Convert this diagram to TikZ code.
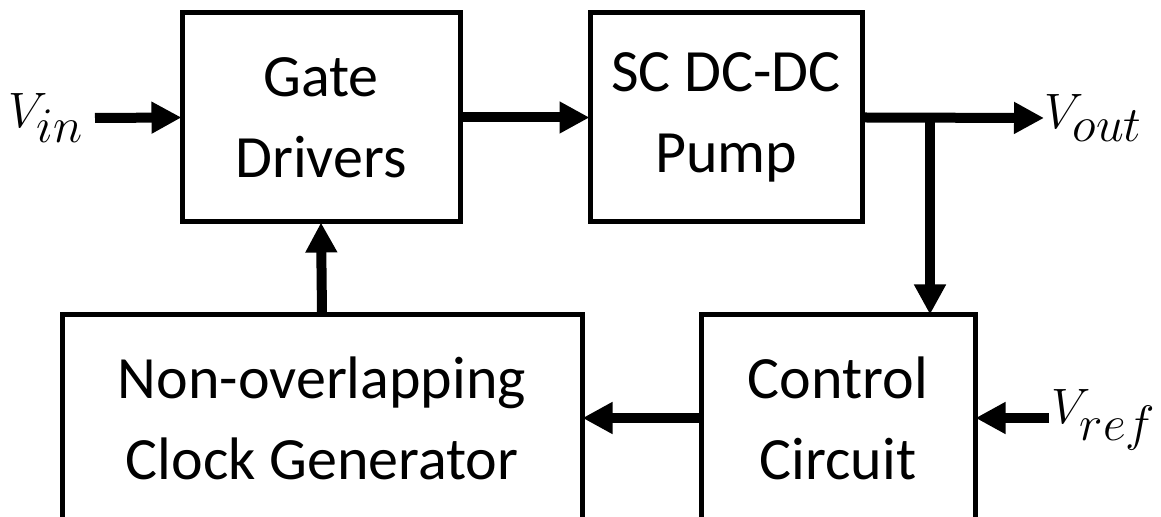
\documentclass[tikz,border=0pt]{standalone}
\usepackage{fontspec}
\setmainfont{Carlito}
\usetikzlibrary{arrows.meta}
\tikzset{
  block/.style={draw=black, line width=2.5pt, rectangle, align=center, inner sep=0pt,
    font=\fontsize{30}{40.5}\selectfont},
  flow/.style={line width=5pt, -{Triangle[length=15pt,width=15pt]}, shorten >=-1pt},
  sig/.style={inner sep=0pt, font=\fontsize{35}{40}\selectfont}
}
\begin{document}
\begin{tikzpicture}[x=0.5pt,y=-0.5pt]
\useasboundingbox (0,0) rectangle (1161,517);
\clip (0,0) rectangle (1161,517);
\fill[white] (0,0) rectangle (1161,517);
\node[block, minimum width=139pt, minimum height=104.5pt] (gd) at (321,117.5) {Gate\\Drivers};
\node[block, minimum width=136pt, minimum height=104.5pt] (sc) at (726,117.5) {SC DC-DC\\Pump};
\node[block, minimum width=260pt, minimum height=103pt] (clk) at (322,418) {Non-overlapping\\Clock Generator};
\node[block, minimum width=137pt, minimum height=103pt] (cc) at (838,418) {Control\\Circuit};
\node[sig, anchor=west] (vin) at (8,118) {$V_{in}$};
\node[sig, anchor=west] (vout) at (1044,118) {$V_{out}$};
\node[sig, anchor=west] (vref) at (1051,420) {$V_{ref}$};
\coordinate (vinS) at (95,118);
\coordinate (voutE) at (1042,118);
\coordinate (vrefS) at (1049,418);
\coordinate (jn) at (930,118);
\draw[flow] (vinS) -- (gd.west);
\draw[flow] (gd.east) -- (sc.west);
\draw[flow] (sc.east) -- (voutE);
\draw[flow] (jn) -- (jn |- cc.north);
\draw[flow] (cc.west) -- (clk.east);
\draw[flow] (vrefS) -- (cc.east);
\draw[flow] (clk.north) -- (gd.south);
\end{tikzpicture}
\end{document}
